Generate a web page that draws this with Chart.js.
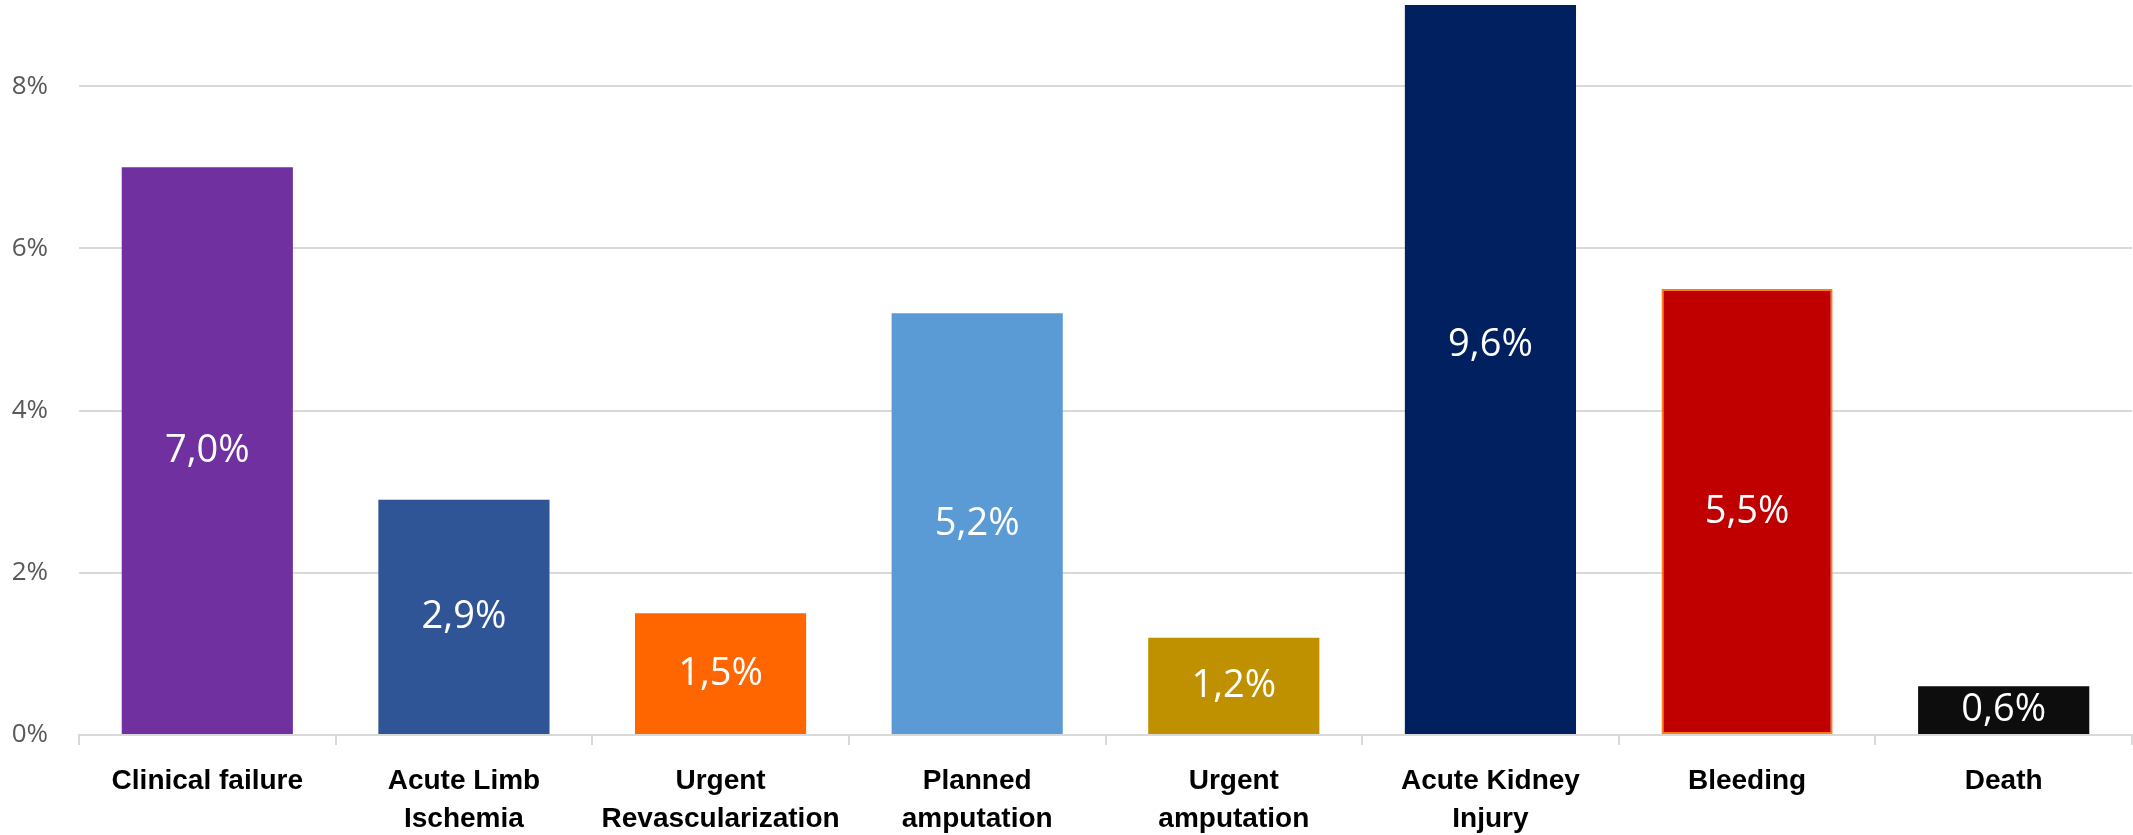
<!DOCTYPE html>
<html>
<head>
<meta charset="utf-8">
<script src="https://cdn.jsdelivr.net/npm/chart.js@4.4.0/dist/chart.umd.min.js"></script>
<style>
  html, body { margin: 0; padding: 0; background: #fff; }
  #wrap { width: 2133px; height: 835px; }
</style>
</head>
<body>
<div id="wrap"><canvas id="chart" width="2133" height="835"></canvas></div>
<script>
const categories = [
  ['Clinical failure'],
  ['Acute Limb', 'Ischemia'],
  ['Urgent', 'Revascularization'],
  ['Planned', 'amputation'],
  ['Urgent', 'amputation'],
  ['Acute Kidney', 'Injury'],
  ['Bleeding'],
  ['Death']
];
const values = [7.0, 2.9, 1.5, 5.2, 1.2, 9.6, 5.5, 0.6];
const barColors = ['#7030a0', '#2f5597', '#ff6600', '#5b9bd5', '#bf9000', '#002060', '#c00000', '#0d0d0d'];
const borderColors = ['#7030a0', '#2f5597', '#ff6600', '#5b9bd5', '#bf9000', '#002060', '#ff7a1a', '#0d0d0d'];
const borderWidths = [0, 0, 0, 0, 0, 0, 2, 0];
const yTicks = { min: 0, max: 9, step: 2 };

const fmt = v => v.toFixed(1).replace('.', ',') + '%';

// value labels centred on the full (unclipped) bar height
const centreLabels = {
  id: 'centreLabels',
  afterDatasetsDraw(chart) {
    const ctx = chart.ctx;
    const y = chart.scales.y;
    const meta = chart.getDatasetMeta(0);
    ctx.save();
    ctx.fillStyle = '#ffffff';
    ctx.font = '38px "Open Sans", sans-serif';
    ctx.textAlign = 'center';
    ctx.textBaseline = 'middle';
    meta.data.forEach((bar, i) => {
      ctx.fillText(fmt(values[i]), bar.x, y.getPixelForValue(values[i] / 2));
    });
    ctx.restore();
  }
};

new Chart(document.getElementById('chart'), {
  type: 'bar',
  data: {
    labels: categories,
    datasets: [{
      data: values,
      backgroundColor: barColors,
      borderColor: borderColors,
      borderWidth: borderWidths,
      borderSkipped: false,
      barPercentage: 0.667,
      categoryPercentage: 1
    }]
  },
  options: {
    responsive: false,
    animation: false,
    layout: { padding: { top: 5, right: 1, left: 0, bottom: 0 } },
    plugins: { legend: { display: false }, tooltip: { enabled: false } },
    scales: {
      x: {
        grid: { drawOnChartArea: false, drawTicks: true, tickLength: 10, color: '#d9d9d9', lineWidth: 2 },
        border: { color: '#d9d9d9', width: 2 },
        ticks: {
          color: '#000000',
          font: { family: '"Liberation Sans", sans-serif', size: 28, weight: 'bold', lineHeight: '38px' },
          padding: 17,
          maxRotation: 0,
          autoSkip: false
        },
        afterFit(s) { s.height = 100; s.paddingLeft = 0; s.paddingRight = 0; }
      },
      y: {
        min: yTicks.min,
        max: yTicks.max,
        grid: { color: '#d9d9d9', lineWidth: 2, drawTicks: false },
        border: { display: false },
        ticks: {
          stepSize: yTicks.step,
          includeBounds: false,
          color: '#595959',
          font: { family: '"Open Sans", sans-serif', size: 26 },
          padding: 31,
          callback: v => v + '%'
        },
        afterFit(s) { s.width = 79; s.paddingTop = 0; s.paddingBottom = 0; }
      }
    }
  },
  plugins: [centreLabels]
});
</script>
</body>
</html>
